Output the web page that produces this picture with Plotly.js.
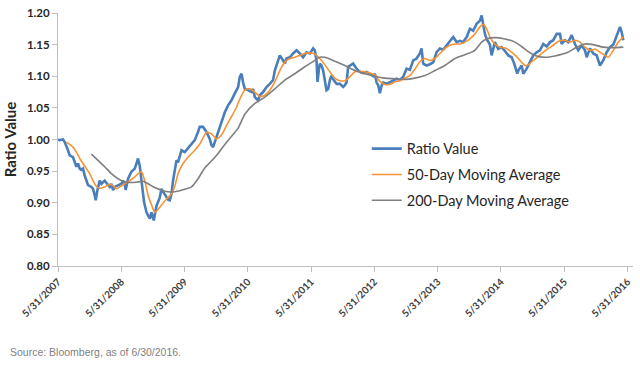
<!DOCTYPE html>
<html>
<head>
<meta charset="utf-8">
<script src="https://cdn.plot.ly/plotly-3.0.1.min.js"></script>
<style>html,body{margin:0;padding:0;background:#fff;}#chart{width:640px;height:369px;}</style>
</head>
<body>
<div id="chart"></div>
<script>
// Dates as decimal years (5/31 of a year = year + 0.41)
const ratioDates = [
2007.410,2007.437,2007.489,2007.516,2007.568,2007.595,2007.647,2007.674,2007.701,2007.726,
2007.753,2007.780,2007.805,2007.832,2007.859,2007.884,2007.938,2007.963,2007.990,2008.006,
2008.033,2008.069,2008.096,2008.148,2008.201,2008.227,2008.254,2008.280,2008.306,2008.359,
2008.412,2008.438,2008.465,2008.480,2008.517,2008.570,2008.623,2008.650,2008.675,2008.702,
2008.717,2008.738,2008.770,2008.808,2008.860,2008.887,2008.923,2008.966,2009.018,2009.045,
2009.097,2009.149,2009.176,2009.203,2009.228,2009.255,2009.282,2009.307,2009.334,2009.361,
2009.413,2009.465,2009.519,2009.571,2009.623,2009.650,2009.702,2009.756,2009.808,2009.835,
2009.861,2009.914,2009.940,2009.993,2010.046,2010.098,2010.151,2010.204,2010.256,2010.283,
2010.310,2010.335,2010.362,2010.414,2010.468,2010.493,2010.520,2010.572,2010.599,2010.651,
2010.705,2010.757,2010.809,2010.836,2010.888,2010.915,2010.967,2010.994,2011.021,2011.073,
2011.125,2011.179,2011.231,2011.283,2011.337,2011.389,2011.442,2011.468,2011.495,2011.511,
2011.532,2011.547,2011.574,2011.600,2011.653,2011.679,2011.706,2011.732,2011.758,2011.812,
2011.864,2011.916,2011.943,2011.970,2011.995,2012.022,2012.074,2012.128,2012.180,2012.232,
2012.286,2012.338,2012.390,2012.417,2012.444,2012.469,2012.496,2012.523,2012.548,2012.602,
2012.654,2012.706,2012.760,2012.812,2012.864,2012.918,2012.970,2013.023,2013.076,2013.128,
2013.155,2013.181,2013.234,2013.287,2013.339,2013.392,2013.445,2013.497,2013.551,2013.603,
2013.655,2013.709,2013.761,2013.813,2013.867,2013.919,2013.971,2014.025,2014.077,2014.104,
2014.129,2014.156,2014.183,2014.235,2014.262,2014.314,2014.366,2014.420,2014.472,2014.525,
2014.578,2014.619,2014.667,2014.683,2014.736,2014.762,2014.816,2014.868,2014.920,2014.974,
2015.026,2015.078,2015.132,2015.184,2015.236,2015.290,2015.342,2015.369,2015.421,2015.473,
2015.527,2015.579,2015.631,2015.685,2015.737,2015.764,2015.816,2015.868,2015.922,2015.974,
2016.026,2016.080,2016.132,2016.185,2016.238,2016.291,2016.317,2016.343
];
const ratioValues = [
1.000,0.999,1.000,0.996,0.983,0.975,0.972,0.964,0.957,0.962,
0.954,0.952,0.954,0.943,0.935,0.928,0.925,0.922,0.912,0.904,
0.920,0.935,0.930,0.935,0.928,0.925,0.930,0.920,0.925,0.928,
0.930,0.935,0.930,0.920,0.938,0.949,0.954,0.962,0.970,0.958,
0.943,0.922,0.901,0.885,0.875,0.885,0.872,0.895,0.908,0.922,
0.914,0.905,0.904,0.914,0.935,0.955,0.967,0.964,0.972,0.983,
0.980,0.986,0.992,0.999,1.012,1.020,1.020,1.012,1.001,0.991,
0.988,1.004,1.012,1.025,1.043,1.054,1.062,1.073,1.083,1.099,
1.104,1.090,1.080,1.078,1.075,1.080,1.067,1.062,1.070,1.075,
1.083,1.088,1.094,1.109,1.125,1.133,1.125,1.120,1.128,1.130,
1.136,1.141,1.136,1.130,1.138,1.136,1.144,1.141,1.125,1.091,
1.110,1.120,1.117,1.109,1.078,1.080,1.094,1.101,1.095,1.088,
1.088,1.083,1.086,1.090,1.115,1.117,1.120,1.112,1.107,1.105,
1.107,1.104,1.100,1.104,1.090,1.086,1.073,1.085,1.090,1.088,
1.091,1.094,1.096,1.094,1.099,1.112,1.110,1.125,1.128,1.136,
1.144,1.120,1.117,1.119,1.122,1.138,1.144,1.142,1.149,1.154,
1.162,1.154,1.156,1.154,1.162,1.175,1.172,1.183,1.188,1.196,
1.178,1.167,1.159,1.150,1.133,1.154,1.143,1.146,1.140,1.133,
1.130,1.120,1.104,1.109,1.117,1.104,1.112,1.122,1.133,1.138,
1.141,1.151,1.147,1.154,1.157,1.167,1.167,1.151,1.157,1.154,
1.165,1.151,1.141,1.149,1.141,1.130,1.144,1.136,1.133,1.117,
1.125,1.138,1.146,1.150,1.165,1.178,1.170,1.157
];
const ma50Dates = [
2007.543,2007.647,2007.701,2007.753,2007.805,2007.859,2007.911,2007.963,2008.017,2008.069,
2008.148,2008.227,2008.280,2008.333,2008.385,2008.465,2008.544,2008.623,2008.702,2008.729,
2008.781,2008.833,2008.887,2008.939,2009.018,2009.124,2009.203,2009.255,2009.307,2009.386,
2009.465,2009.571,2009.650,2009.756,2009.835,2009.914,2009.993,2010.072,2010.151,2010.231,
2010.283,2010.362,2010.441,2010.520,2010.599,2010.678,2010.757,2010.836,2010.915,2010.994,
2011.073,2011.152,2011.231,2011.310,2011.389,2011.468,2011.547,2011.627,2011.706,2011.785,
2011.864,2011.943,2012.022,2012.101,2012.180,2012.259,2012.338,2012.417,2012.496,2012.575,
2012.654,2012.733,2012.812,2012.891,2012.970,2013.049,2013.128,2013.208,2013.287,2013.366,
2013.445,2013.524,2013.603,2013.682,2013.761,2013.840,2013.919,2013.998,2014.077,2014.129,
2014.183,2014.235,2014.314,2014.393,2014.472,2014.551,2014.657,2014.736,2014.789,2014.841,
2014.920,2014.999,2015.078,2015.157,2015.236,2015.315,2015.421,2015.500,2015.579,2015.658,
2015.737,2015.816,2015.895,2015.974,2016.053,2016.106,2016.185,2016.264,2016.343
];
const ma50Values = [
0.996,0.988,0.980,0.970,0.962,0.954,0.946,0.935,0.926,0.923,
0.925,0.929,0.927,0.922,0.925,0.930,0.935,0.941,0.948,0.949,
0.935,0.912,0.897,0.885,0.893,0.906,0.914,0.926,0.946,0.962,
0.972,0.983,0.993,1.011,1.009,1.001,1.007,1.022,1.036,1.051,
1.064,1.078,1.080,1.075,1.068,1.070,1.078,1.091,1.109,1.122,
1.128,1.130,1.133,1.136,1.137,1.135,1.128,1.118,1.107,1.097,
1.093,1.093,1.099,1.107,1.108,1.107,1.105,1.102,1.092,1.087,
1.087,1.091,1.093,1.097,1.101,1.111,1.123,1.128,1.125,1.128,
1.136,1.144,1.149,1.151,1.151,1.154,1.159,1.167,1.178,1.182,
1.175,1.162,1.151,1.146,1.145,1.140,1.131,1.122,1.117,1.118,
1.125,1.131,1.138,1.144,1.149,1.155,1.157,1.154,1.157,1.154,
1.146,1.141,1.143,1.138,1.133,1.130,1.141,1.154,1.162
];
const ma200Dates = [
2007.938,2008.042,2008.148,2008.254,2008.359,2008.465,2008.570,2008.675,2008.754,2008.833,
2008.939,2009.070,2009.203,2009.334,2009.440,2009.519,2009.623,2009.729,2009.835,2009.940,
2010.046,2010.151,2010.256,2010.362,2010.520,2010.678,2010.836,2010.994,2011.152,2011.310,
2011.468,2011.547,2011.627,2011.758,2011.943,2012.101,2012.259,2012.417,2012.575,2012.733,
2012.891,2013.049,2013.208,2013.366,2013.524,2013.682,2013.840,2013.998,2014.104,2014.183,
2014.314,2014.472,2014.631,2014.736,2014.841,2014.947,2015.105,2015.263,2015.448,2015.606,
2015.737,2015.868,2016.026,2016.185,2016.343
];
const ma200Values = [
0.977,0.967,0.957,0.946,0.938,0.933,0.932,0.933,0.934,0.930,
0.924,0.919,0.917,0.919,0.922,0.925,0.938,0.955,0.966,0.978,
0.992,1.005,1.018,1.040,1.057,1.067,1.080,1.094,1.104,1.115,
1.125,1.130,1.130,1.125,1.117,1.109,1.104,1.100,1.097,1.096,
1.095,1.097,1.101,1.109,1.117,1.128,1.134,1.141,1.154,1.159,
1.161,1.159,1.154,1.147,1.139,1.133,1.130,1.132,1.137,1.146,
1.151,1.150,1.146,1.145,1.146
];
const tickYears = [2007.41,2008.41,2009.41,2010.41,2011.41,2012.41,2013.41,2014.41,2015.41,2016.41];
const tickLabels = ['5/31/2007','5/31/2008','5/31/2009','5/31/2010','5/31/2011','5/31/2012','5/31/2013','5/31/2014','5/31/2015','5/31/2016'];
const seriesNames = ['Ratio Value','50-Day Moving Average','200-Day Moving Average'];

const traces = [
  {x: ratioDates, y: ratioValues, name: seriesNames[0], type: 'scatter', mode: 'lines',
   line: {color: '#4a7ebb', width: 2.6}, legendgroup: 'a'},
  {x: ma50Dates, y: ma50Values, name: seriesNames[1], type: 'scatter', mode: 'lines',
   line: {color: '#f79234', width: 1.6, shape: 'spline', smoothing: 0.6}, legendgroup: 'b'},
  {x: ma200Dates, y: ma200Values, name: seriesNames[2], type: 'scatter', mode: 'lines',
   line: {color: '#7f7f7f', width: 1.6, shape: 'spline', smoothing: 0.6}, legendgroup: 'c'}
];

const layout = {
  width: 640, height: 369,
  margin: {l: 58, r: 7, t: 13, b: 103, pad: 0},
  paper_bgcolor: '#ffffff', plot_bgcolor: '#ffffff',
  showlegend: true,
  xaxis: {
    range: [2007.41, 2016.496], tickmode: 'array', tickvals: tickYears, ticktext: tickLabels,
    tickangle: -45, ticks: 'outside', ticklen: 5, tickcolor: '#bfbfbf',
    showline: true, linecolor: '#bfbfbf', linewidth: 1, showgrid: false, zeroline: false,
    automargin: false,
    tickfont: {family: 'Lato, Carlito, sans-serif', size: 10, color: '#404040', weight: 'bold'}
  },
  yaxis: {
    range: [0.8, 1.2], dtick: 0.05, tick0: 0.8, tickformat: '.2f',
    ticks: 'outside', ticklen: 5, tickcolor: '#bfbfbf',
    showline: true, linecolor: '#bfbfbf', linewidth: 1, showgrid: false, zeroline: false,
    automargin: false,
    tickfont: {family: 'Lato, sans-serif', size: 11.5, color: '#262626', weight: 'bold'},
    title: {text: 'Ratio Value', font: {family: 'Lato, sans-serif', size: 15, color: '#262626', weight: 'bold'}, standoff: 6}
  },
  legend: {
    x: 0.537, y: 0.527, xanchor: 'left', yanchor: 'top',
    bgcolor: 'rgba(0,0,0,0)', borderwidth: 0,
    traceorder: 'grouped', tracegroupgap: 4,
    font: {family: 'Lato, sans-serif', size: 14.5, color: '#262626'}
  },
  annotations: [{
    text: 'Source: Bloomberg, as of 6/30/2016.', xref: 'paper', yref: 'paper',
    x: -0.087, y: -0.34, xanchor: 'left', yanchor: 'middle', showarrow: false,
    font: {family: 'Liberation Sans, Arial, sans-serif', size: 10.5, color: '#7f7f7f'}
  }]
};

Plotly.newPlot('chart', traces, layout, {staticPlot: true, displayModeBar: false});
</script>
</body>
</html>
